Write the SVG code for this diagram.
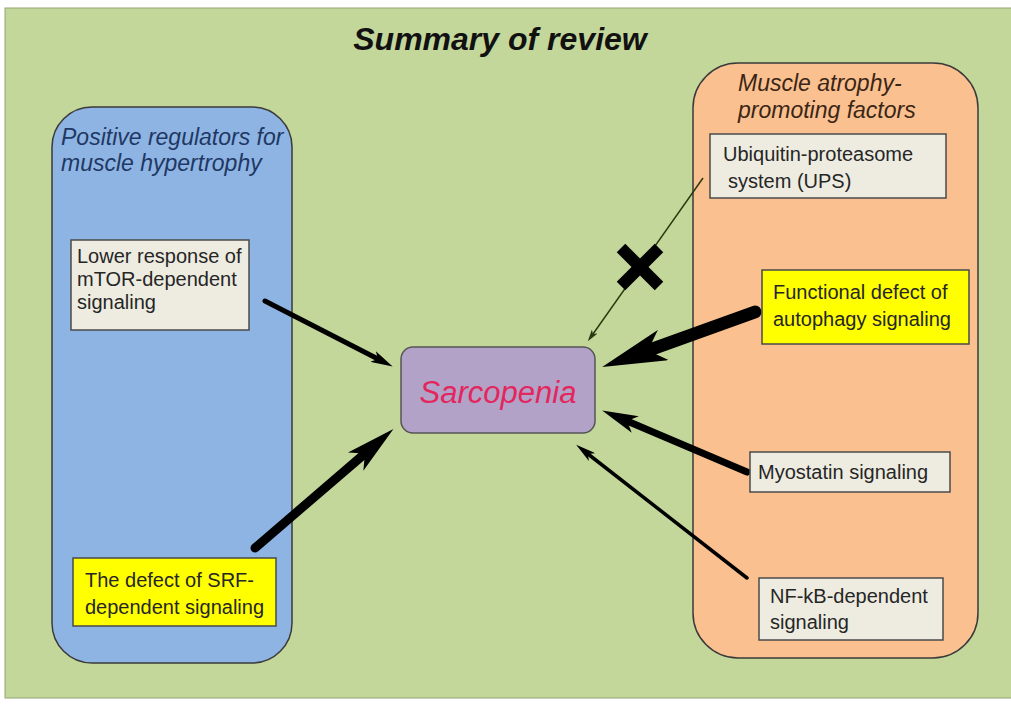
<svg xmlns="http://www.w3.org/2000/svg" width="1011" height="707" viewBox="0 0 1011 707">
<style>
.container{stroke:#3a3a3a;stroke-width:1.5}
.box{fill:#eeece1;stroke:#4a4a4a;stroke-width:1.5}
.ybox{fill:#ffff00;stroke:#4a4a4a;stroke-width:1.5}
.t{font-family:"Liberation Sans",Arial,sans-serif;font-size:20px;fill:#262626}
.hd{font-family:"Liberation Sans",Arial,sans-serif;font-size:23px;font-style:italic}
.arr{stroke:#000;fill:none;stroke-linecap:round}
</style>
<defs>
<marker id="h1" viewBox="0 0 20 12" refX="5" refY="6" markerUnits="userSpaceOnUse" markerWidth="22" markerHeight="12" preserveAspectRatio="none" orient="auto"><path d="M0,0 L20,6 L0,12 L5,6 z" fill="#000"/></marker>
<marker id="h2" viewBox="0 0 20 12" refX="5" refY="6" markerUnits="userSpaceOnUse" markerWidth="50" markerHeight="24" preserveAspectRatio="none" orient="auto"><path d="M0,0 L20,6 L0,12 L5,6 z" fill="#000"/></marker>
<marker id="h3" viewBox="0 0 20 12" refX="5" refY="6" markerUnits="userSpaceOnUse" markerWidth="65" markerHeight="32" preserveAspectRatio="none" orient="auto"><path d="M0,0 L20,6 L0,12 L5,6 z" fill="#000"/></marker>
<marker id="h4" viewBox="0 0 20 12" refX="5" refY="6" markerUnits="userSpaceOnUse" markerWidth="36" markerHeight="18" preserveAspectRatio="none" orient="auto"><path d="M0,0 L20,6 L0,12 L5,6 z" fill="#000"/></marker>
<marker id="h5" viewBox="0 0 20 12" refX="5" refY="6" markerUnits="userSpaceOnUse" markerWidth="20" markerHeight="10" preserveAspectRatio="none" orient="auto"><path d="M0,0 L20,6 L0,12 L5,6 z" fill="#000"/></marker>
<marker id="h6" viewBox="0 0 20 12" refX="5" refY="6" markerUnits="userSpaceOnUse" markerWidth="12" markerHeight="7" preserveAspectRatio="none" orient="auto"><path d="M0,0 L20,6 L0,12 L5,6 z" fill="#2a3a10"/></marker>
</defs>
<rect x="0" y="0" width="1011" height="707" fill="#ffffff"/>
<rect x="5" y="8" width="1010" height="690" fill="#c4d79b" stroke="#93a574" stroke-width="1"/>
<text x="500" y="50" text-anchor="middle" font-family="Liberation Sans, Arial, sans-serif" font-size="32" font-weight="bold" font-style="italic" fill="#111">Summary of review</text>

<g id="positive-regulators">
<rect class="container" x="52" y="107" width="240" height="556" rx="40" fill="#8eb4e3"/>
<text class="hd" fill="#1f3864"><tspan x="61" y="145">Positive regulators for</tspan><tspan x="61" y="171">muscle hypertrophy</tspan></text>
</g>

<g id="atrophy-factors">
<rect class="container" x="693" y="63" width="285" height="595" rx="45" fill="#fac090"/>
<text class="hd" fill="#3a2616"><tspan x="738" y="91">Muscle atrophy-</tspan><tspan x="738" y="118">promoting factors</tspan></text>
</g>

<g id="connectors">
<line class="arr" x1="265" y1="301" x2="378" y2="359" stroke-width="5" marker-end="url(#h1)"/>
<line class="arr" x1="255" y1="548" x2="365" y2="453.5" stroke-width="9" marker-end="url(#h2)"/>
<line class="arr" x1="755" y1="312" x2="648" y2="350.5" stroke-width="13" stroke-linecap="butt" marker-end="url(#h3)"/>
<line class="arr" x1="747" y1="472" x2="627" y2="421" stroke-width="7" marker-end="url(#h4)"/>
<line class="arr" x1="747" y1="578" x2="588" y2="454" stroke-width="3.5" marker-end="url(#h5)"/>
<line x1="703" y1="178" x2="593" y2="334" stroke="#2a3a10" stroke-width="1.5" marker-end="url(#h6)"/>
<g id="block-mark" stroke="#000" stroke-width="12">
<line x1="621" y1="248" x2="659" y2="286"/>
<line x1="659" y1="248" x2="621" y2="286"/>
</g>
</g>

<g id="mtor">
<rect class="box" x="71" y="240" width="178" height="90"/>
<text class="t"><tspan x="77" y="263">Lower response of</tspan><tspan x="77" y="286">mTOR-dependent</tspan><tspan x="77" y="309">signaling</tspan></text>
</g>

<g id="srf">
<rect class="ybox" x="73" y="558" width="203" height="68"/>
<text class="t"><tspan x="85" y="587">The defect of SRF-</tspan><tspan x="85" y="614">dependent signaling</tspan></text>
</g>

<g id="ups">
<rect class="box" x="710" y="134" width="236" height="64"/>
<text class="t"><tspan x="723" y="161">Ubiquitin-proteasome</tspan><tspan x="728" y="188">system (UPS)</tspan></text>
</g>

<g id="autophagy">
<rect class="ybox" x="762" y="270" width="207" height="74"/>
<text class="t"><tspan x="773" y="299">Functional defect of</tspan><tspan x="773" y="326">autophagy signaling</tspan></text>
</g>

<g id="myostatin">
<rect class="box" x="750" y="452" width="200" height="40"/>
<text class="t" x="758" y="479">Myostatin signaling</text>
</g>

<g id="nfkb">
<rect class="box" x="759" y="578" width="184" height="62"/>
<text class="t"><tspan x="770" y="603">NF-kB-dependent</tspan><tspan x="770" y="629">signaling</tspan></text>
</g>

<g id="sarcopenia">
<rect x="401" y="347" width="194" height="86" rx="12" fill="#b3a2c7" stroke="#555" stroke-width="1.5"/>
<text x="498" y="403" text-anchor="middle" font-family="Liberation Sans, Arial, sans-serif" font-size="31" font-style="italic" fill="#e2275e">Sarcopenia</text>
</g>
</svg>
